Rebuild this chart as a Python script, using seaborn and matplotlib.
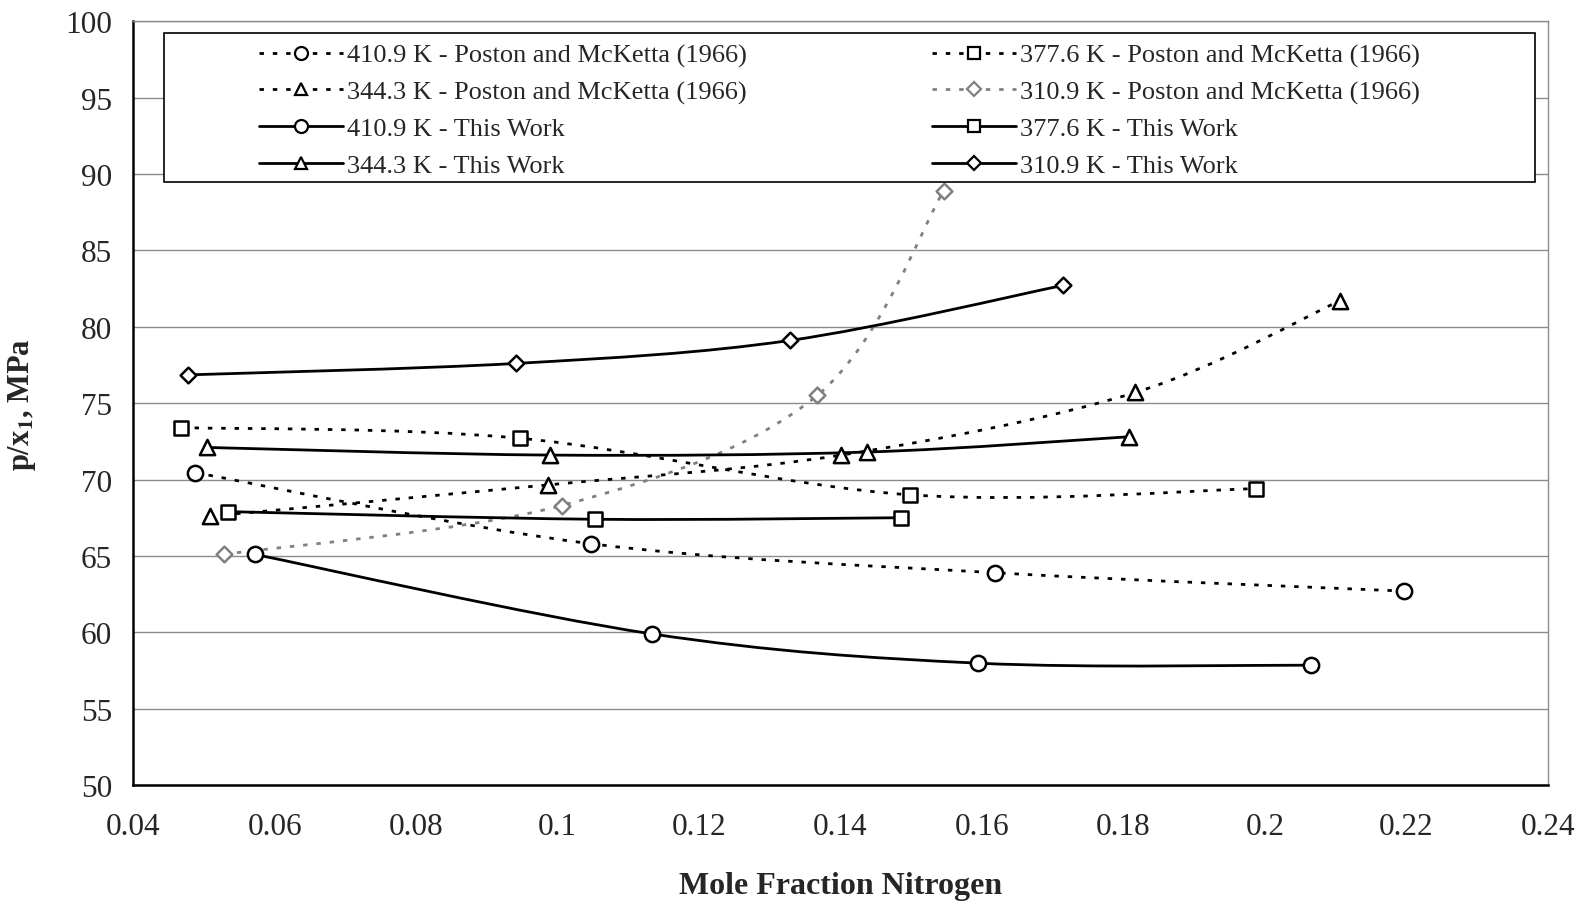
import numpy as np
import pandas as pd
import matplotlib
matplotlib.use("Agg")
import matplotlib.pyplot as plt
from matplotlib.path import Path
from matplotlib.patches import PathPatch, Rectangle
from matplotlib.lines import Line2D
import seaborn as sns

# ---------------- data ----------------
pm_4109_x = [0.0488, 0.1047, 0.1619, 0.2196]
pm_4109_y = [70.45, 65.8, 63.9, 62.7]
pm_3776_x = [0.0468, 0.0947, 0.1498, 0.1987]
pm_3776_y = [73.4, 72.7, 69.0, 69.4]
pm_3443_x = [0.0508, 0.0987, 0.1401, 0.1817, 0.2106]
pm_3443_y = [67.6, 69.65, 71.6, 75.7, 81.7]
pm_3109_x = [0.0528, 0.1006, 0.1367, 0.1546]
pm_3109_y = [65.1, 68.3, 75.5, 88.9]

tw_4109_x = [0.0572, 0.1133, 0.1595, 0.2065]
tw_4109_y = [65.1, 59.9, 57.98, 57.85]
tw_3776_x = [0.0534, 0.1053, 0.1486]
tw_3776_y = [67.9, 67.4, 67.5]
tw_3443_x = [0.0504, 0.0990, 0.1438, 0.1808]
tw_3443_y = [72.1, 71.6, 71.8, 72.8]
tw_3109_x = [0.0478, 0.0942, 0.1328, 0.1714]
tw_3109_y = [76.85, 77.6, 79.1, 82.7]

labels = {
    "pm_4109": "410.9 K - Poston and McKetta (1966)",
    "pm_3776": "377.6 K - Poston and McKetta (1966)",
    "pm_3443": "344.3 K - Poston and McKetta (1966)",
    "pm_3109": "310.9 K - Poston and McKetta (1966)",
    "tw_4109": "410.9 K - This Work",
    "tw_3776": "377.6 K - This Work",
    "tw_3443": "344.3 K - This Work",
    "tw_3109": "310.9 K - This Work",
}

series = {
    "pm_4109": (pm_4109_x, pm_4109_y),
    "pm_3776": (pm_3776_x, pm_3776_y),
    "pm_3443": (pm_3443_x, pm_3443_y),
    "pm_3109": (pm_3109_x, pm_3109_y),
    "tw_4109": (tw_4109_x, tw_4109_y),
    "tw_3776": (tw_3776_x, tw_3776_y),
    "tw_3443": (tw_3443_x, tw_3443_y),
    "tw_3109": (tw_3109_x, tw_3109_y),
}

markers = {"4109": "o", "3776": "s", "3443": "^", "3109": "D"}
msizes = {"o": 11, "s": 10, "^": 11, "D": 8}

# ---------------- style ----------------
sns.set_theme(style="white")
plt.rcParams["font.family"] = ["Liberation Serif", "DejaVu Serif"]
plt.rcParams["mathtext.fontset"] = "stix"

fig = plt.figure(figsize=(15.81, 9.04), dpi=100)
ax = fig.add_axes([0.0842, 0.1304, 0.8948, 0.8451])

dotted = (0, (1.6, 3.2))


def smooth_path(xs, ys):
    pts = np.column_stack([xs, ys]).astype(float)
    n = len(pts)
    verts = [pts[0]]
    codes = [Path.MOVETO]
    for i in range(n - 1):
        p0 = pts[i - 1] if i > 0 else pts[i]
        p1 = pts[i]
        p2 = pts[i + 1]
        p3 = pts[i + 2] if i + 2 < n else pts[i + 1]
        c1 = p1 + (p2 - p0) / 6.0
        c2 = p2 - (p3 - p1) / 6.0
        verts += [c1, c2, p2]
        codes += [Path.CURVE4] * 3
    return Path(verts, codes)


handles = {}
for key, (xs, ys) in series.items():
    kind, temp = key.split("_")
    color = "#808080" if key == "pm_3109" else "black"
    ls = dotted if kind == "pm" else "-"
    lw = 2.0
    patch = PathPatch(smooth_path(xs, ys), facecolor="none", edgecolor=color,
                      linewidth=lw, linestyle=ls, zorder=2, capstyle="butt")
    ax.add_patch(patch)
    df = pd.DataFrame({"x": xs, "y": ys})
    m = markers[temp]
    sns.scatterplot(data=df, x="x", y="y", ax=ax, marker=m,
                    s=msizes[m] ** 2, facecolor="white", edgecolor=color,
                    linewidth=1.8, zorder=3, legend=False)
    handles[key] = Line2D([], [], color=color, linestyle=ls, linewidth=lw,
                          marker=m, markersize=msizes[m] * 0.85,
                          markerfacecolor="white", markeredgecolor=color,
                          markeredgewidth=1.6)

ax.set_xlim(0.04, 0.24)
ax.set_ylim(50, 100)
ax.set_xticks(np.arange(0.04, 0.2401, 0.02))
ax.set_xticklabels(["0.04", "0.06", "0.08", "0.1", "0.12", "0.14", "0.16",
                    "0.18", "0.2", "0.22", "0.24"])
ax.set_yticks(np.arange(50, 101, 5))
ax.tick_params(axis="both", labelsize=22.5, direction="out", length=7,
               width=1.2, color="black", pad=8)
ax.tick_params(axis="x", pad=12)
ax.yaxis.grid(True, color="#8c8c8c", linewidth=1.0)
ax.xaxis.grid(False)
for s in ["left", "bottom"]:
    ax.spines[s].set_color("black")
    ax.spines[s].set_linewidth(1.8)
for s in ["top", "right"]:
    ax.spines[s].set_color("#8c8c8c")
    ax.spines[s].set_linewidth(1.0)

ax.set_xlabel("Mole Fraction Nitrogen", fontsize=23, fontweight="bold",
              labelpad=22)
ax.set_ylabel(r"p/x$_\mathbf{1}$, MPa", fontsize=22, fontweight="bold",
              labelpad=20)

# legend frame box
box = Rectangle((0.022, 0.789), 0.969, 0.195, transform=ax.transAxes,
                facecolor="white", edgecolor="black", linewidth=1.2,
                zorder=4)
ax.add_patch(box)

order = ["pm_4109", "pm_3443", "tw_4109", "tw_3443",
         "pm_3776", "pm_3109", "tw_3776", "tw_3109"]
leg = ax.legend([handles[k] for k in order], [labels[k] for k in order],
                ncol=2, loc="upper left",
                bbox_to_anchor=(0.089, 0.971),
                fontsize=19, frameon=False, handlelength=3.2,
                handletextpad=0.15, labelspacing=0.49, borderpad=0.0,
                borderaxespad=0, columnspacing=7.0)
leg.set_zorder(5)

fig.savefig("out.png", dpi=100, facecolor="white")
